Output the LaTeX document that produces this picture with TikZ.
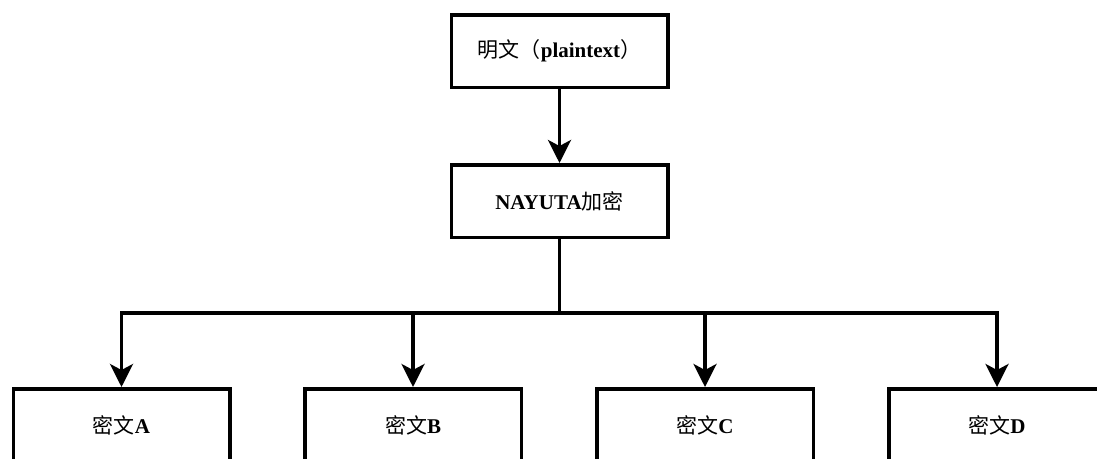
\documentclass[tikz,border=0pt]{standalone}
\usepackage{fontspec}
\setmainfont{Liberation Serif}
\newfontfamily\cjk{Noto Sans CJK SC}
\usetikzlibrary{arrows.meta}
\tikzset{
  boxnode/.style={draw=black, line width=3.5pt, fill=white, minimum width=216.5pt,
    minimum height=72.5pt, inner sep=0pt, font=\fontsize{21}{25}\selectfont},
  conn/.style={draw=black, line width=3.5pt, line join=miter},
  arr/.style={conn, -{Stealth[length=23pt,width=23pt,inset=6pt]}}
}
\begin{document}
\begin{tikzpicture}[x=1pt,y=-1pt]
\useasboundingbox (0,0) rectangle (1097,458);
\clip (0,0) rectangle (1097,458);
\node[boxnode] (plain) at (559.5,51) {{\cjk 明文（}\textbf{plaintext}{\cjk ）}};
\node[boxnode] (enc) at (559.5,201) {\textbf{NAYUTA}{\cjk 加密}};
\node[boxnode] (cA) at (121.5,425) {{\cjk 密文}\textbf{A}};
\node[boxnode] (cB) at (413,425) {{\cjk 密文}\textbf{B}};
\node[boxnode] (cC) at (705,425) {{\cjk 密文}\textbf{C}};
\node[boxnode] (cD) at (997,425) {{\cjk 密文}\textbf{D}};
\coordinate (bus) at (559.5,313);
\draw[arr] (plain.south) -- (enc.north);
\draw[conn] (enc.south) -- (bus);
\draw[arr] (bus) -| (cA.north);
\draw[arr] (bus) -| (cB.north);
\draw[arr] (bus) -| (cC.north);
\draw[arr] (bus) -| (cD.north);
\end{tikzpicture}
\end{document}
